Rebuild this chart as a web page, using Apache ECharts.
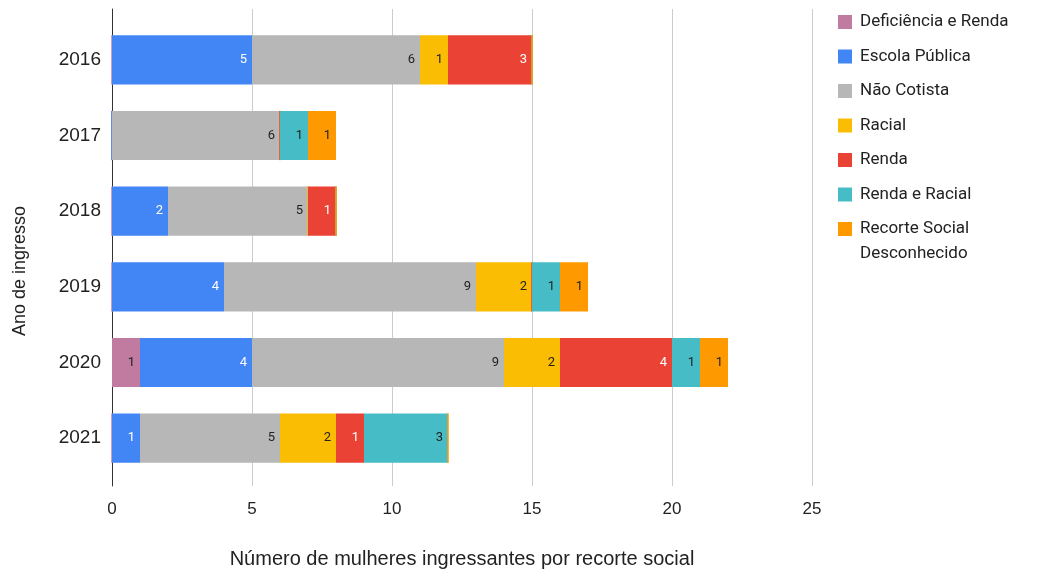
<!DOCTYPE html>
<html>
<head>
<meta charset="utf-8">
<script src="https://cdn.jsdelivr.net/npm/echarts@6/dist/echarts.min.js"></script>
<style>
  html, body { margin: 0; padding: 0; background: #fff; }
  #chart { width: 1046px; height: 574px; }
</style>
</head>
<body>
<div id="chart"></div>
<script>
// Years of admission (one horizontal bar per year)
const years = ['2016', '2017', '2018', '2019', '2020', '2021'];

// Women admitted per social quota, one value per year
const deficienciaRenda = [0, 0, 0, 0, 1, 0];
const escolaPublica    = [5, 0, 2, 4, 4, 1];
const naoCotista       = [6, 6, 5, 9, 9, 5];
const racial           = [1, 0, 0, 2, 2, 2];
const renda            = [3, 0, 1, 0, 4, 1];
const rendaRacial      = [0, 1, 0, 1, 1, 3];
const desconhecido     = [0, 1, 0, 1, 1, 0];

const xTicks = [0, 5, 10, 15, 20, 25];

const seriesDefs = [
  { name: 'Deficiência e Renda', data: deficienciaRenda, color: '#c27ba0', label: '#222222' },
  { name: 'Escola Pública', data: escolaPublica, color: '#4285f4', label: '#ffffff' },
  { name: 'Não Cotista', data: naoCotista, color: '#b7b7b7', label: '#222222' },
  { name: 'Racial', data: racial, color: '#fbbc04', label: '#222222' },
  { name: 'Renda', data: renda, color: '#ea4335', label: '#ffffff' },
  { name: 'Renda e Racial', data: rendaRacial, color: '#46bdc6', label: '#222222' },
  { name: 'Recorte Social Desconhecido', data: desconhecido, color: '#ff9900', label: '#222222' }
];

const labelFont = 'Roboto, "Noto Sans", sans-serif';
const axisFont = '"Liberation Sans", Arial, sans-serif';
const textColor = '#222222';

const legendBase = {
  orient: 'vertical',
  left: 838,
  padding: 0,
  itemWidth: 14,
  itemHeight: 14,
  icon: 'rect'
};

const chart = echarts.init(document.getElementById('chart'), null, { renderer: 'canvas' });

chart.setOption({
  animation: false,
  textStyle: { fontFamily: axisFont },
  grid: [
    // bars
    { left: 112, right: 234, top: 22, bottom: 98, containLabel: false },
    // frame: gridlines, zero axis line and tick labels
    { left: 112, right: 234, top: 9, bottom: 85, containLabel: false }
  ],
  legend: [
    Object.assign({}, legendBase, {
      top: 12,
      itemGap: 14.5,
      textStyle: { fontSize: 17, color: textColor, fontFamily: labelFont, lineHeight: 20, padding: [0, 0, 0, 3] },
      data: seriesDefs.slice(0, 6).map(s => s.name)
    }),
    // two-line entry: blank first line keeps the swatch level with "Recorte Social"
    Object.assign({}, legendBase, {
      top: 191.5,
      textStyle: { fontSize: 17, color: textColor, fontFamily: labelFont, lineHeight: 25, padding: [0, 0, 0, 3] },
      formatter: () => '\nRecorte Social\nDesconhecido',
      data: [seriesDefs[6].name]
    })
  ],
  xAxis: [
    {
      type: 'value', gridIndex: 0,
      min: xTicks[0], max: xTicks[xTicks.length - 1], interval: 5,
      show: false
    },
    {
      type: 'value', gridIndex: 1,
      min: xTicks[0], max: xTicks[xTicks.length - 1], interval: 5,
      name: 'Número de mulheres ingressantes por recorte social',
      nameLocation: 'middle',
      nameGap: 63,
      nameTextStyle: { fontSize: 20, color: textColor, fontFamily: axisFont },
      axisLine: { show: false },
      axisTick: { show: false },
      axisLabel: { fontSize: 17, color: textColor, margin: 15, fontFamily: axisFont },
      splitLine: { show: true, lineStyle: { color: '#cccccc', width: 1 } }
    }
  ],
  yAxis: [
    {
      type: 'category', gridIndex: 0,
      data: years,
      inverse: true,
      name: 'Ano de ingresso',
      nameLocation: 'middle',
      nameGap: 83,
      nameRotate: 90,
      nameTextStyle: { fontSize: 18, color: textColor, fontFamily: axisFont, padding: [0, 44, 0, 0] },
      axisLine: { show: false },
      axisTick: { show: false },
      axisLabel: { fontSize: 19, color: textColor, margin: 11, fontFamily: axisFont }
    },
    {
      type: 'value', gridIndex: 1,
      min: 0, max: 1,
      axisLine: { show: true, onZero: false, lineStyle: { color: '#333333', width: 1 } },
      axisTick: { show: false },
      axisLabel: { show: false },
      splitLine: { show: false }
    }
  ],
  series: seriesDefs.map(s => ({
    name: s.name,
    type: 'bar',
    stack: 'total',
    xAxisIndex: 0,
    yAxisIndex: 0,
    barWidth: '65%',
    // empty segments still leave a hairline where they sit in the stack
    data: s.data.map(v => v === 0
      ? { value: v, itemStyle: { borderColor: s.color, borderWidth: 1 } }
      : v),
    itemStyle: { color: s.color },
    label: {
      show: true,
      position: 'insideRight',
      distance: 5,
      fontSize: 13,
      fontFamily: labelFont,
      color: s.label,
      formatter: p => (p.value ? String(p.value) : '')
    }
  }))
});
</script>
</body>
</html>
